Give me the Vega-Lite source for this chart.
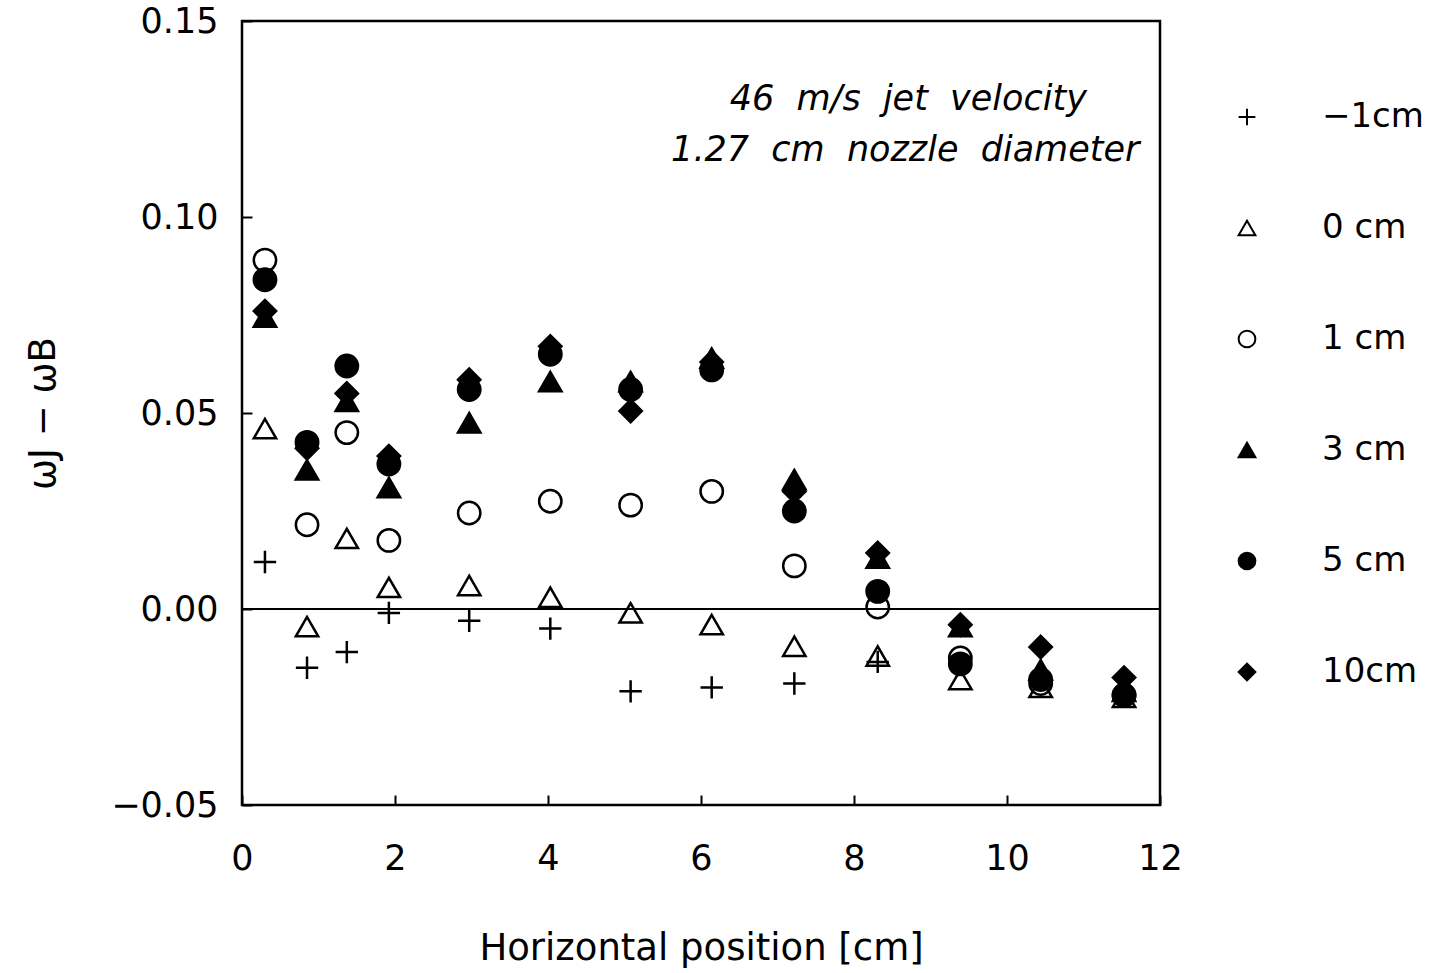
{
  "$schema": "https://vega.github.io/schema/vega-lite/v6.json",
  "width": 918,
  "height": 784,
  "autosize": {"type": "none"},
  "padding": {"left": 242, "top": 21, "right": 275, "bottom": 168},
  "background": "white",
  "config": {
    "font": "DejaVu Sans",
    "view": {"stroke": "black", "strokeWidth": 2.5},
    "axis": {
      "domain": false,
      "grid": false,
      "ticks": true,
      "tickColor": "black",
      "tickWidth": 2,
      "tickSize": -10,
      "labelFlush": false,
      "labelFont": "DejaVu Sans",
      "labelFontSize": 35,
      "labelColor": "black",
      "titleFont": "DejaVu Sans",
      "titleFontSize": 37,
      "titleFontWeight": "normal",
      "titleColor": "black"
    },
    "legend": {
      "labelFont": "DejaVu Sans",
      "labelFontSize": 34,
      "labelColor": "black"
    }
  },
  "datasets": {
    "pts": [
      {"x": 0.30, "y": 0.012, "s": "−1cm"},
      {"x": 0.85, "y": -0.015, "s": "−1cm"},
      {"x": 1.37, "y": -0.011, "s": "−1cm"},
      {"x": 1.92, "y": -0.001, "s": "−1cm"},
      {"x": 2.97, "y": -0.003, "s": "−1cm"},
      {"x": 4.03, "y": -0.005, "s": "−1cm"},
      {"x": 5.08, "y": -0.021, "s": "−1cm"},
      {"x": 6.14, "y": -0.020, "s": "−1cm"},
      {"x": 7.22, "y": -0.019, "s": "−1cm"},
      {"x": 8.31, "y": -0.0135, "s": "−1cm"},
      {"x": 0.30, "y": 0.046, "s": "0 cm"},
      {"x": 0.85, "y": -0.0045, "s": "0 cm"},
      {"x": 1.37, "y": 0.018, "s": "0 cm"},
      {"x": 1.92, "y": 0.0055, "s": "0 cm"},
      {"x": 2.97, "y": 0.006, "s": "0 cm"},
      {"x": 4.03, "y": 0.003, "s": "0 cm"},
      {"x": 5.08, "y": -0.001, "s": "0 cm"},
      {"x": 6.14, "y": -0.004, "s": "0 cm"},
      {"x": 7.22, "y": -0.0095, "s": "0 cm"},
      {"x": 8.31, "y": -0.012, "s": "0 cm"},
      {"x": 9.39, "y": -0.018, "s": "0 cm"},
      {"x": 10.44, "y": -0.020, "s": "0 cm"},
      {"x": 11.53, "y": -0.0225, "s": "0 cm"},
      {"x": 0.30, "y": 0.089, "s": "1 cm"},
      {"x": 0.85, "y": 0.0215, "s": "1 cm"},
      {"x": 1.37, "y": 0.045, "s": "1 cm"},
      {"x": 1.92, "y": 0.0175, "s": "1 cm"},
      {"x": 2.97, "y": 0.0245, "s": "1 cm"},
      {"x": 4.03, "y": 0.0275, "s": "1 cm"},
      {"x": 5.08, "y": 0.0265, "s": "1 cm"},
      {"x": 6.14, "y": 0.030, "s": "1 cm"},
      {"x": 7.22, "y": 0.011, "s": "1 cm"},
      {"x": 8.31, "y": 0.0005, "s": "1 cm"},
      {"x": 9.39, "y": -0.0125, "s": "1 cm"},
      {"x": 10.44, "y": -0.019, "s": "1 cm"},
      {"x": 11.53, "y": -0.022, "s": "1 cm"},
      {"x": 0.30, "y": 0.0745, "s": "3 cm"},
      {"x": 0.85, "y": 0.0355, "s": "3 cm"},
      {"x": 1.37, "y": 0.053, "s": "3 cm"},
      {"x": 1.92, "y": 0.031, "s": "3 cm"},
      {"x": 2.97, "y": 0.0475, "s": "3 cm"},
      {"x": 4.03, "y": 0.058, "s": "3 cm"},
      {"x": 5.08, "y": 0.058, "s": "3 cm"},
      {"x": 6.14, "y": 0.064, "s": "3 cm"},
      {"x": 7.22, "y": 0.033, "s": "3 cm"},
      {"x": 8.31, "y": 0.013, "s": "3 cm"},
      {"x": 9.39, "y": -0.0045, "s": "3 cm"},
      {"x": 10.44, "y": -0.0155, "s": "3 cm"},
      {"x": 11.53, "y": -0.021, "s": "3 cm"},
      {"x": 0.30, "y": 0.084, "s": "5 cm"},
      {"x": 0.85, "y": 0.0425, "s": "5 cm"},
      {"x": 1.37, "y": 0.062, "s": "5 cm"},
      {"x": 1.92, "y": 0.037, "s": "5 cm"},
      {"x": 2.97, "y": 0.056, "s": "5 cm"},
      {"x": 4.03, "y": 0.065, "s": "5 cm"},
      {"x": 5.08, "y": 0.056, "s": "5 cm"},
      {"x": 6.14, "y": 0.061, "s": "5 cm"},
      {"x": 7.22, "y": 0.025, "s": "5 cm"},
      {"x": 8.31, "y": 0.0045, "s": "5 cm"},
      {"x": 9.39, "y": -0.014, "s": "5 cm"},
      {"x": 10.44, "y": -0.018, "s": "5 cm"},
      {"x": 11.53, "y": -0.022, "s": "5 cm"},
      {"x": 0.30, "y": 0.076, "s": "10cm"},
      {"x": 0.85, "y": 0.041, "s": "10cm"},
      {"x": 1.37, "y": 0.055, "s": "10cm"},
      {"x": 1.92, "y": 0.039, "s": "10cm"},
      {"x": 2.97, "y": 0.0585, "s": "10cm"},
      {"x": 4.03, "y": 0.067, "s": "10cm"},
      {"x": 5.08, "y": 0.0505, "s": "10cm"},
      {"x": 6.14, "y": 0.063, "s": "10cm"},
      {"x": 7.22, "y": 0.030, "s": "10cm"},
      {"x": 8.31, "y": 0.0143, "s": "10cm"},
      {"x": 9.39, "y": -0.004, "s": "10cm"},
      {"x": 10.44, "y": -0.0097, "s": "10cm"},
      {"x": 11.53, "y": -0.0175, "s": "10cm"}
    ]
  },
  "layer": [
    {
      "data": {"values": [{}]},
      "mark": {"type": "rule", "color": "black", "strokeWidth": 2},
      "encoding": {"y": {"datum": 0, "type": "quantitative"}}
    },
    {
      "data": {"name": "pts"},
      "mark": {"type": "point", "strokeWidth": 2.5, "opacity": 1, "size": 500},
      "encoding": {
        "x": {
          "field": "x", "type": "quantitative",
          "scale": {"domain": [0, 12], "nice": false, "zero": false},
          "axis": {"values": [0, 2, 4, 6, 8, 10, 12], "title": "Horizontal position [cm]", "labelPadding": 46, "titlePadding": 54, "format": "d"}
        },
        "y": {
          "field": "y", "type": "quantitative",
          "scale": {"domain": [-0.05, 0.15], "nice": false, "zero": false},
          "axis": {"values": [-0.05, 0, 0.05, 0.10, 0.15], "format": ".2f", "title": "ωJ − ωB", "labelPadding": 34, "titlePadding": 48}
        },
        "shape": {
          "field": "s", "type": "nominal", "title": null,
          "scale": {
            "domain": ["−1cm", "0 cm", "1 cm", "3 cm", "5 cm", "10cm"],
            "range": ["M-1,0L1,0M0,-1L0,1", "triangle-up", "circle", "triangle-up", "circle", "diamond"]
          },
          "legend": {
            "orient": "none", "legendX": 988, "legendY": 79, "symbolSize": 280, "labelOffset": 58, "rowPadding": 77, "symbolStrokeWidth": 2
          }
        },
        "fill": {
          "field": "s", "type": "nominal", "title": null,
          "scale": {
            "domain": ["−1cm", "0 cm", "1 cm", "3 cm", "5 cm", "10cm"],
            "range": ["transparent", "transparent", "transparent", "black", "black", "black"]
          },
          "legend": {
            "orient": "none", "legendX": 988, "legendY": 79, "symbolSize": 280, "labelOffset": 58, "rowPadding": 77, "symbolStrokeWidth": 2
          }
        },
        "stroke": {
          "field": "s", "type": "nominal", "title": null,
          "scale": {
            "domain": ["−1cm", "0 cm", "1 cm", "3 cm", "5 cm", "10cm"],
            "range": ["black", "black", "black", "black", "black", "black"]
          },
          "legend": {
            "orient": "none", "legendX": 988, "legendY": 79, "symbolSize": 280, "labelOffset": 58, "rowPadding": 77, "symbolStrokeWidth": 2
          }
        }
      }
    },
    {
      "data": {"values": [{}]},
      "mark": {"type": "text", "text": "46\u00a0 m/s\u00a0 jet\u00a0 velocity", "font": "DejaVu Sans", "fontStyle": "italic", "fontSize": 35, "align": "center", "baseline": "middle", "color": "black"},
      "encoding": {"x": {"datum": 8.71, "type": "quantitative"}, "y": {"datum": 0.130, "type": "quantitative"}}
    },
    {
      "data": {"values": [{}]},
      "mark": {"type": "text", "text": "1.27\u00a0 cm\u00a0 nozzle\u00a0 diameter", "font": "DejaVu Sans", "fontStyle": "italic", "fontSize": 35, "align": "center", "baseline": "middle", "color": "black"},
      "encoding": {"x": {"datum": 8.67, "type": "quantitative"}, "y": {"datum": 0.117, "type": "quantitative"}}
    }
  ]
}
